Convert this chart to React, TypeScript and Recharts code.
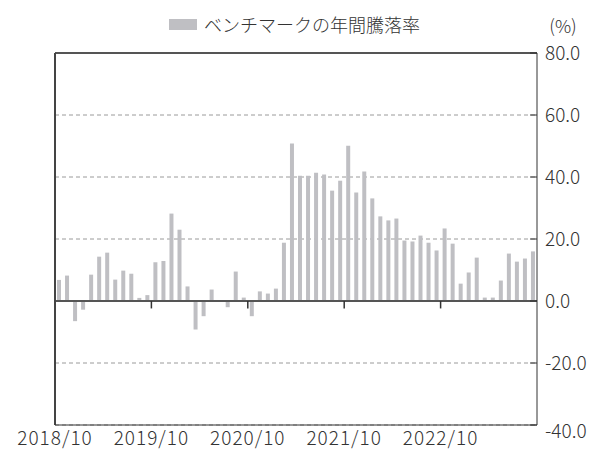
import {
  BarChart,
  Bar,
  XAxis,
  YAxis,
  CartesianGrid,
  Legend,
  ReferenceLine,
  Text,
} from "recharts";

const months = [
  "2018/10", "2018/11", "2018/12", "2019/01", "2019/02", "2019/03", "2019/04", "2019/05", "2019/06", "2019/07", "2019/08", "2019/09",
  "2019/10", "2019/11", "2019/12", "2020/01", "2020/02", "2020/03", "2020/04", "2020/05", "2020/06", "2020/07", "2020/08", "2020/09",
  "2020/10", "2020/11", "2020/12", "2021/01", "2021/02", "2021/03", "2021/04", "2021/05", "2021/06", "2021/07", "2021/08", "2021/09",
  "2021/10", "2021/11", "2021/12", "2022/01", "2022/02", "2022/03", "2022/04", "2022/05", "2022/06", "2022/07", "2022/08", "2022/09",
  "2022/10", "2022/11", "2022/12", "2023/01", "2023/02", "2023/03", "2023/04", "2023/05", "2023/06", "2023/07", "2023/08", "2023/09",
];

// ベンチマークの年間騰落率 (%)
const returns = [
  6.8, 8.2, -6.5, -2.8, 8.5, 14.3, 15.6, 6.9, 9.8, 8.8, 1.0, 1.9,
  12.5, 12.9, 28.2, 23.0, 4.7, -9.2, -4.9, 3.7, 0.2, -2.0, 9.5, 1.1,
  -4.9, 3.1, 2.4, 4.0, 18.8, 50.8, 40.4, 40.4, 41.4, 40.8, 35.6, 38.8,
  50.1, 35.0, 41.8, 33.1, 27.3, 26.0, 26.6, 19.5, 19.2, 21.1, 18.8, 16.3,
  23.4, 18.5, 5.6, 9.2, 14.0, 1.1, 1.1, 6.6, 15.3, 12.7, 13.7, 16.0,
];

const xTicks = [0, 12, 24, 36, 48];
const yTicks = [-40, -20, 0, 20, 40, 60, 80];

const data = months.map((month, i) => ({ month, pos: i + 0.5, value: returns[i] }));

const FONT = "'Noto Sans CJK JP', 'Noto Sans', sans-serif";
const TEXT = "#333333";
const BAR = "#bfbfc3";

function YTick(props: any) {
  const { x, y, payload } = props;
  const shift = payload.value === -40 ? 6 : 0;
  return (
    <Text x={x} y={y + shift} textAnchor="start" verticalAnchor="middle" fill={TEXT} fontSize={19} fontWeight={300} fontFamily={FONT}>
      {payload.value.toFixed(1)}
    </Text>
  );
}

function renderLegend(props: any) {
  const item = props.payload?.[0];
  return (
    <div style={{ display: "flex", justifyContent: "center", alignItems: "center", height: 24, fontFamily: FONT, fontSize: 18, fontWeight: 300, color: TEXT }}>
      <span style={{ display: "inline-block", width: 28, height: 11, background: BAR, marginRight: 7 }} />
      <span>{item ? item.value : ""}</span>
    </div>
  );
}

export default function App() {
  return (
    <div style={{ position: "absolute", left: 0, top: 0, background: "#fff" }}>
      <BarChart width={589} height={450} data={data} margin={{ top: 53, right: 0, bottom: 0, left: 55 }}>
        <CartesianGrid vertical={false} stroke="#9a9a9a" strokeDasharray="4 3" />
        <XAxis
          type="number"
          dataKey="pos"
          domain={[0, 60]}
          ticks={xTicks}
          allowDataOverflow
          tickFormatter={(v: number) => months[v]}
          height={25}
          tickLine={false}
          tickSize={0}
          tickMargin={7}
          axisLine={{ stroke: "#333", strokeWidth: 1 }}
          tick={{ fill: TEXT, fontSize: 19, fontWeight: 300, fontFamily: FONT, letterSpacing: 1 }}
          interval={0}
        />
        <YAxis
          orientation="right"
          width={52}
          domain={[-40, 80]}
          ticks={yTicks}
          interval={0}
          tickSize={-7}
          tickMargin={15}
          tickLine={{ stroke: "#333" }}
          axisLine={{ stroke: "#333", strokeWidth: 1 }}
          tick={<YTick />}
          label={{ value: "(%)", position: "top", offset: 20, fill: TEXT, fontSize: 18, fontWeight: 300, fontFamily: FONT }}
        />
        <Legend verticalAlign="middle" layout="horizontal" wrapperStyle={{ top: 12, left: 0, width: 589 }} content={renderLegend} />
        <Bar dataKey="value" name="ベンチマークの年間騰落率" fill={BAR} barSize={4} isAnimationActive={false} />
        <ReferenceLine y={0} stroke="#555" strokeWidth={2} />
        <ReferenceLine y={80} stroke="#555" strokeWidth={2} />
        <ReferenceLine x={0} stroke="#444" strokeWidth={2} />
        {xTicks.slice(1).map((t) => (
          <ReferenceLine key={t} segment={[{ x: t, y: 0 }, { x: t, y: -2.4 }]} stroke="#333" strokeWidth={1.5} />
        ))}
      </BarChart>
    </div>
  );
}
